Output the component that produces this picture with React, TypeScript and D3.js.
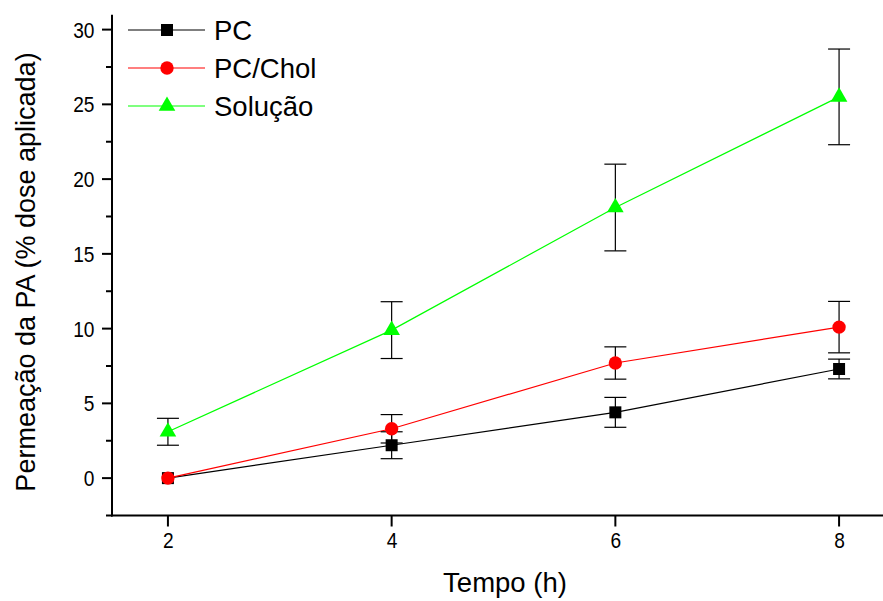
import { useRef, useEffect } from "react";
import * as d3 from "d3";

// time points (h)
const times = [2, 4, 6, 8];

// mean permeation (% applied dose) per formulation
const pcValues = [0, 2.2, 4.4, 7.3];
const pcErr = [0, 0.9, 1.0, 0.66];

const pcCholValues = [0, 3.3, 7.7, 10.1];
const pcCholErr = [0, 0.95, 1.08, 1.72];

const solucaoValues = [3.1, 9.9, 18.1, 25.5];
const solucaoErr = [0.9, 1.9, 2.9, 3.2];

const xTicks = [2, 4, 6, 8];
const yTicks = [0, 5, 10, 15, 20, 25, 30];
const yMinorTicks = [-2.5, 2.5, 7.5, 12.5, 17.5, 22.5, 27.5];

const seriesNames = ["PC", "PC/Chol", "Solução"];
const seriesColors = ["#000000", "#ff0000", "#00ff00"];
const seriesSymbols = [d3.symbolSquare, d3.symbolCircle, d3.symbolTriangle];
const seriesSizes = [144, 140, 120];

const FONT = "'Liberation Sans', Arial, sans-serif";

export default function App() {
  const svgRef = useRef<SVGSVGElement>(null);

  useEffect(() => {
    const svg = d3.select(svgRef.current);
    svg.selectAll("*").remove();

    const x = d3.scaleLinear().domain([1.5, 8.5]).range([112, 895]);
    const y = d3.scaleLinear().domain([-2.5, 30]).range([515.5, 29.6]);
    const yTop = y(31);

    const series = [
      { values: pcValues, err: pcErr },
      { values: pcCholValues, err: pcCholErr },
      { values: solucaoValues, err: solucaoErr },
    ];

    // axes
    const ax = svg.append("g").attr("stroke", "#000").attr("fill", "none");
    ax.append("line")
      .attr("x1", x(1.5)).attr("x2", x(1.5))
      .attr("y1", yTop).attr("y2", y(-2.5) + 1)
      .attr("stroke-width", 2);
    ax.append("line")
      .attr("x1", x(1.5) - 1).attr("x2", 883)
      .attr("y1", y(-2.5)).attr("y2", y(-2.5))
      .attr("stroke-width", 2);

    ax.selectAll("line.ymaj").data(yTicks).join("line")
      .attr("class", "ymaj")
      .attr("x1", x(1.5) - 10).attr("x2", x(1.5))
      .attr("y1", (d) => y(d)).attr("y2", (d) => y(d))
      .attr("stroke-width", 2);
    ax.selectAll("line.ymin").data(yMinorTicks).join("line")
      .attr("class", "ymin")
      .attr("x1", x(1.5) - 6).attr("x2", x(1.5))
      .attr("y1", (d) => y(d)).attr("y2", (d) => y(d))
      .attr("stroke-width", 2);
    ax.selectAll("line.xmaj").data(xTicks).join("line")
      .attr("class", "xmaj")
      .attr("x1", (d) => x(d)).attr("x2", (d) => x(d))
      .attr("y1", y(-2.5)).attr("y2", y(-2.5) + 11)
      .attr("stroke-width", 2);

    // tick labels: tall, slightly condensed digits as in the original
    const labels = svg.append("g")
      .attr("font-family", FONT)
      .attr("font-size", 22.5)
      .attr("fill", "#000");
    labels.selectAll("text.yl").data(yTicks).join("text")
      .attr("class", "yl")
      .attr("transform", (d) => `translate(${x(1.5) - 17.5},${y(d)}) scale(0.85,1)`)
      .attr("dy", "0.36em")
      .attr("text-anchor", "end")
      .text((d) => d);
    labels.selectAll("text.xl").data(xTicks).join("text")
      .attr("class", "xl")
      .attr("transform", (d) => `translate(${x(d) + 0.5},548) scale(0.85,1)`)
      .attr("text-anchor", "middle")
      .text((d) => d);

    svg.append("text")
      .attr("x", 505).attr("y", 592)
      .attr("text-anchor", "middle")
      .attr("font-family", FONT).attr("font-size", 27.5)
      .text("Tempo (h)");
    svg.append("text")
      .attr("transform", "translate(35,272) rotate(-90)")
      .attr("text-anchor", "middle")
      .attr("font-family", FONT).attr("font-size", 27)
      .text("Permeação da PA (% dose aplicada)");

    // lines, error bars, markers
    const line = d3.line<number>()
      .x((_, i) => x(times[i]))
      .y((d) => y(d));

    series.forEach((s, k) => {
      svg.append("path")
        .datum(s.values)
        .attr("d", line)
        .attr("fill", "none")
        .attr("stroke", seriesColors[k])
        .attr("stroke-width", 1.2);
    });

    series.forEach((s) => {
      const g = svg.append("g").attr("stroke", "#000").attr("stroke-width", 1.2);
      s.values.forEach((v, i) => {
        if (!s.err[i]) return;
        const cx = x(times[i]);
        const top = y(v + s.err[i]);
        const bot = y(v - s.err[i]);
        g.append("line").attr("x1", cx).attr("x2", cx).attr("y1", top).attr("y2", bot);
        g.append("line").attr("x1", cx - 11).attr("x2", cx + 11).attr("y1", top).attr("y2", top);
        g.append("line").attr("x1", cx - 11).attr("x2", cx + 11).attr("y1", bot).attr("y2", bot);
      });
    });

    series.forEach((s, k) => {
      const sym = d3.symbol().type(seriesSymbols[k]).size(seriesSizes[k]);
      svg.append("g").selectAll("path").data(s.values).join("path")
        .attr("transform", (d, i) => `translate(${x(times[i])},${y(d)})`)
        .attr("d", sym)
        .attr("fill", seriesColors[k]);
    });

    // legend
    const leg = svg.append("g");
    seriesNames.forEach((name, k) => {
      const ly = 30 + k * 38;
      leg.append("line")
        .attr("x1", 128).attr("x2", 205)
        .attr("y1", ly).attr("y2", ly)
        .attr("stroke", seriesColors[k]).attr("stroke-width", 1.2);
      leg.append("path")
        .attr("transform", `translate(167,${ly})`)
        .attr("d", d3.symbol().type(seriesSymbols[k]).size(seriesSizes[k]))
        .attr("fill", seriesColors[k]);
      leg.append("text")
        .attr("x", 214).attr("y", ly)
        .attr("dy", "0.36em")
        .attr("font-family", FONT).attr("font-size", 27.5)
        .text(name);
    });
  }, []);

  return (
    <svg
      ref={svgRef}
      width={883}
      height={601}
      style={{ position: "absolute", left: 0, top: 0, background: "#fff" }}
    />
  );
}
